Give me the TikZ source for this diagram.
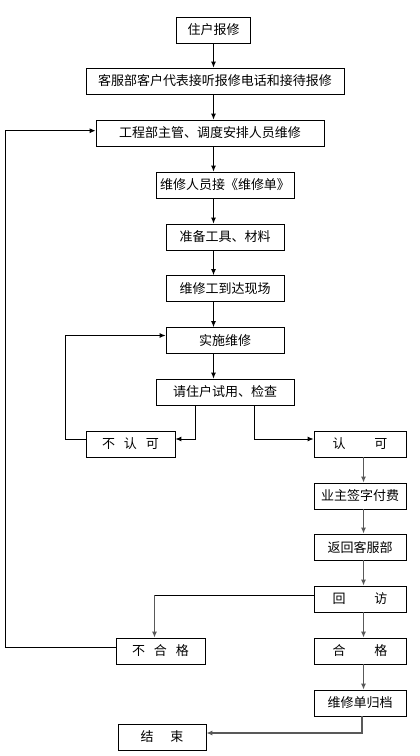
\documentclass[tikz,border=0pt]{standalone}
\usepackage{fontspec}
\setmainfont{Noto Sans CJK SC}
\usetikzlibrary{arrows.meta}
\begin{document}
\begin{tikzpicture}[x=1pt,y=-1pt,
  box/.style={draw=black,line width=0.8pt,minimum height=26pt,inner sep=0pt,
    font=\fontsize{13pt}{14pt}\selectfont},
  arr/.style={draw=black,line width=0.9pt,-{Latex[length=6pt,width=5pt]}},
  arrg/.style={draw=black!65,line width=1.2pt,-{Latex[length=6pt,width=5pt]}},
  ln/.style={draw=black,line width=0.9pt}]
\useasboundingbox[fill=white] (0,0) rectangle (420,756);
\node[box,minimum width=74pt]  (a) at (213.5,30)  {住户报修};
\node[box,minimum width=258pt] (b) at (215,81)    {客服部客户代表接听报修电话和接待报修};
\node[box,minimum width=228pt] (c) at (210,133)   {工程部主管、调度安排人员维修};
\node[box,minimum width=138pt] (d) at (225,185)   {维修人员接《维修单》};
\node[box,minimum width=118pt] (e) at (225,237)   {准备工具、材料};
\node[box,minimum width=118pt] (f) at (225,288.5) {维修工到达现场};
\node[box,minimum width=118pt] (g) at (225,340.5) {实施维修};
\node[box,minimum width=138pt] (h) at (225,392)   {请住户试用、检查};
\node[box,minimum width=89pt]  (i) at (130.5,444) {不\hspace{9pt}认\hspace{9pt}可};
\node[box,minimum width=92pt]  (j) at (360,444)   {认\hspace{29pt}可};
\node[box,minimum width=92pt]  (k) at (360,496)   {业主签字付费};
\node[box,minimum width=92pt]  (l) at (360,547)   {返回客服部};
\node[box,minimum width=92pt]  (m) at (360,599)   {回\hspace{29pt}访};
\node[box,minimum width=89pt]  (n) at (160.5,651) {不\hspace{9pt}合\hspace{9pt}格};
\node[box,minimum width=92pt]  (o) at (360,651)   {合\hspace{29pt}格};
\node[box,minimum width=92pt]  (p) at (360,703)   {维修单归档};
\node[box,minimum width=88pt]  (q) at (162,737)   {结\hspace{17pt}束};
% central column
\draw[arr] (a.south) -- (a.south |- b.north);
\draw[arr] (b.south -| a.south) -- (c.north -| a.south);
\draw[arr] (c.south -| a.south) -- (d.north -| a.south);
\draw[arr] (d.south -| a.south) -- (e.north -| a.south);
\draw[arr] (e.south -| a.south) -- (f.north -| a.south);
\draw[arr] (f.south -| a.south) -- (g.north -| a.south);
\draw[arr] (g.south -| a.south) -- (h.north -| a.south);
% branches
\draw[arr] ([xshift=-30pt]h.south) |- ([yshift=5pt]i.east);
\draw[arr] ([xshift=29pt]h.south) |- ([yshift=5pt]j.west);
\draw[arr] ([yshift=5pt]i.west) -- ++(-20,0) |- ([yshift=5pt]g.west);
% right column
\draw[arrg] ([xshift=3.5pt]j.south) -- ([xshift=3.5pt]k.north);
\draw[arrg] ([xshift=3.5pt]k.south) -- ([xshift=3.5pt]l.north);
\draw[arrg] ([xshift=3.5pt]l.south) -- ([xshift=3.5pt]m.north);
\draw[arrg] ([xshift=3.5pt]m.south) -- ([xshift=3.5pt]o.north);
\draw[arrg] ([xshift=3.5pt]o.south) -- ([xshift=3.5pt]p.north);
\draw[arrg] ([xshift=2pt]p.south) |- ([yshift=4pt]q.east);
% 回访 -> 不合格
\coordinate (mw) at ([yshift=4pt]m.west);
\coordinate (nt) at ([xshift=-6pt]n.north);
\coordinate (mc) at (mw -| nt);
\draw[ln] (mw) -- (mc);
\draw[arrg] (mc) -- (nt);
% 不合格 -> 工程部
\draw[arr] ([yshift=4pt]n.west) -- ++(-110,0) |- ([yshift=2.3pt]c.west);
\end{tikzpicture}
\end{document}
